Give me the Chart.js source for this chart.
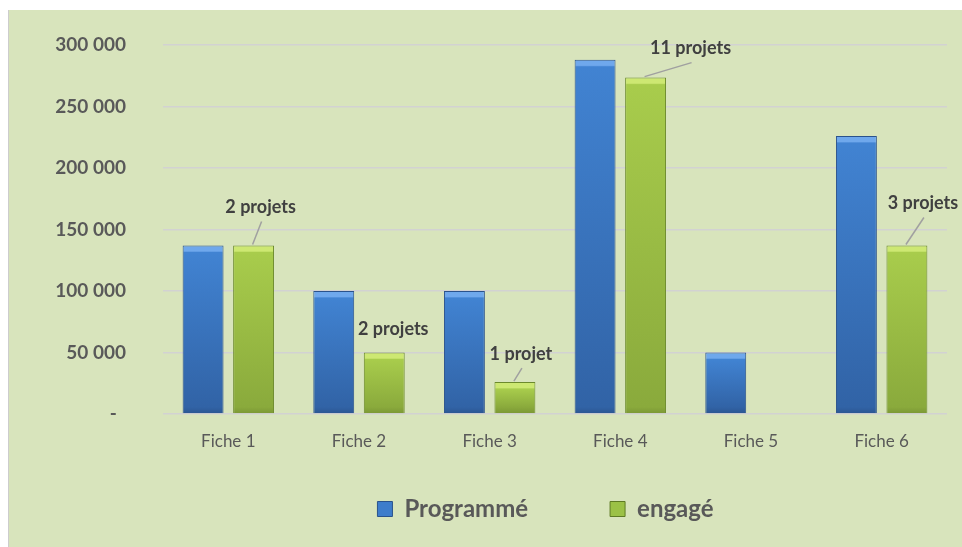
<!DOCTYPE html>
<html><head><meta charset="utf-8">
<script src="https://cdn.jsdelivr.net/npm/chart.js@4"></script>
<style>
html,body{margin:0;padding:0;background:#ffffff;}
#wrap{position:absolute;left:8px;top:10px;width:953px;height:537px;border-left:1px solid #CDCDCD;background:#D8E4BC;}
canvas{display:block;}
</style></head><body>
<div id="wrap"><canvas id="c" width="953" height="537"></canvas></div>
<script>
const categories = ['Fiche 1','Fiche 2','Fiche 3','Fiche 4','Fiche 5','Fiche 6'];
const programme = [137000, 100000, 100000, 288000, 50000, 226000];
const engage = [137000, 50000, 26000, 273500, 0, 137000];
const engageLabels = ['2 projets','2 projets','1 projet','11 projets','','3 projets'];
const yTickValues = [0, 50000, 100000, 150000, 200000, 250000, 300000];
const seriesNames = ['Programmé', 'engagé'];

function fmt(v){
  if (v === 0) return '-  ';
  return String(v).replace(/\B(?=(\d{3})+(?!\d))/g, ' ');
}

function barFill(bevel, top, bottom, dark){
  return (ctx) => {
    const chart = ctx.chart;
    const ys = chart.scales && chart.scales.y;
    if (!ys || !chart.chartArea || ctx.type !== 'data') return top;
    const yt = ys.getPixelForValue(ctx.raw), yb = ys.getPixelForValue(0);
    const h = yb - yt;
    if (!(h > 2)) return top;
    const g = chart.ctx.createLinearGradient(0, yt, 0, yb);
    const f = Math.min(0.4, 7 / h);
    g.addColorStop(0, bevel);
    g.addColorStop(f * 0.8, bevel);
    g.addColorStop(f, top);
    g.addColorStop(Math.max(f, 1 - f), bottom);
    g.addColorStop(1, dark);
    return g;
  };
}

const labelPlugin = {
  id: 'projectLabels',
  afterLayout(chart, args, opts){
    const lg = chart.legend;
    if (!lg) return;
    const b = opts.legendBox;
    lg.left = b.left; lg.right = b.right; lg.width = b.right - b.left;
    lg.top = b.top; lg.bottom = b.bottom; lg.height = b.bottom - b.top;
  },
  afterDatasetsDraw(chart, args, opts){
    const meta = chart.getDatasetMeta(1);
    const ctx = chart.ctx;
    ctx.save();
    ctx.font = 'bold 18px Lato';
    ctx.fillStyle = '#404040';
    ctx.textAlign = 'center';
    ctx.textBaseline = 'middle';
    meta.data.forEach((bar, i) => {
      const txt = engageLabels[i];
      if (!txt) return;
      const off = opts.offsets[i];
      const lx = bar.x + off[0], ly = bar.y + off[1];
      if (opts.leaders[i]) {
        ctx.strokeStyle = '#A0A0A0';
        ctx.lineWidth = 1.5;
        ctx.beginPath();
        ctx.moveTo(bar.x - 1, bar.y - 1);
        ctx.lineTo(lx + 1, ly + 14);
        ctx.stroke();
      }
      ctx.fillText(txt, lx, ly);
    });
    ctx.restore();
  }
};

new Chart(document.getElementById('c'), {
  type: 'bar',
  data: {
    labels: categories,
    datasets: [
      {
        label: seriesNames[0],
        data: programme,
        backgroundColor: barFill('#6FA8EC', '#4183D2', '#3163A6', '#2B5590'),
        borderColor: '#2A528C',
        borderWidth: 1,
        categoryPercentage: 0.773,
        barPercentage: 0.81
      },
      {
        label: seriesNames[1],
        data: engage,
        backgroundColor: barFill('#CDE872', '#A8CC4C', '#8AAA3C', '#7A9634'),
        borderColor: '#6C8A2C',
        borderWidth: (c) => (c.raw ? 1 : 0),
        categoryPercentage: 0.773,
        barPercentage: 0.81
      }
    ]
  },
  plugins: [labelPlugin],
  options: {
    responsive: false,
    animation: false,
    events: [],
    devicePixelRatio: 1,
    layout: { padding: { left: 20, right: 15, top: 35, bottom: 53 } },
    scales: {
      x: {
        grid: { display: false },
        border: { display: false },
        ticks: { color: '#595959', font: { family: 'Lato', size: 17 }, padding: 9 },
        afterFit(s){ s.height = 50; }
      },
      y: {
        min: 0, max: 300000,
        grid: { color: '#D2D2D2', lineWidth: 1.5, drawTicks: true, tickLength: 37, tickColor: 'rgba(0,0,0,0)' },
        border: { display: false },
        afterBuildTicks(s){ s.ticks = yTickValues.map(v => ({ value: v })); },
        ticks: {
          color: '#595959',
          font: { family: 'Lato', size: 19, weight: 'bold' },
          padding: 0,
          callback: (v) => fmt(v)
        },
        afterFit(s){ s.width = 134; }
      }
    },
    plugins: {
      tooltip: { enabled: false },
      projectLabels: {
        offsets: [[7,-38],[9,-23],[6,-28],[45,-29],[0,0],[16,-42]],
        leaders: [true,false,true,true,false,true],
        legendBox: { left: 135, right: 938, top: 405, bottom: 537 }
      },
      legend: {
        position: 'bottom',
        maxHeight: 30,
        labels: {
          padding: 82,
          boxWidth: 15,
          boxHeight: 15,
          color: '#595959',
          font: { family: 'Lato', size: 24, weight: 'bold' },
          generateLabels: () => [
            { text: seriesNames[0], fillStyle: '#3E7DCB', strokeStyle: '#2A528C', lineWidth: 1, fontColor: '#595959', datasetIndex: 0 },
            { text: seriesNames[1], fillStyle: '#9BC146', strokeStyle: '#5E7A24', lineWidth: 1, fontColor: '#595959', datasetIndex: 1 }
          ]
        }
      }
    }
  }
});
</script>
</body></html>
